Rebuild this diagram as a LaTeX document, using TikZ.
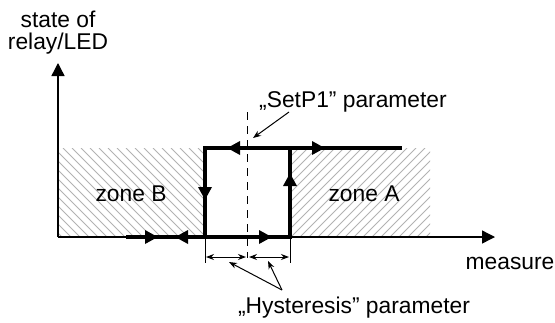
\documentclass[tikz,border=0pt]{standalone}
\usepackage{fontspec}
\setmainfont{Liberation Sans}
\usetikzlibrary{arrows.meta,decorations.markings}
\tikzset{
  axis/.style={line width=0.7pt,-{Triangle[length=6.5pt,width=6.5pt]}},
  loopline/.style={line width=1.6pt,line cap=rect,line join=miter},
  hatchline/.style={black!30,line width=0.45pt},
  pointer/.style={line width=0.5pt,-{Stealth[length=4pt,width=3pt]}},
  dimline/.style={line width=0.5pt,{Stealth[length=4pt,width=3pt]}-{Stealth[length=4pt,width=3pt]}},
  label/.style={font=\fontsize{11.4}{13}\selectfont,inner sep=0pt,anchor=base},
}
\newcommand{\looptip}{\arrow{Triangle[length=6.5pt,width=6.5pt]}}
\newcommand{\looptiprev}{\arrowreversed{Triangle[length=6.5pt,width=6.5pt]}}
\begin{document}
\begin{tikzpicture}[x=0.5pt,y=-0.5pt]
  \useasboundingbox (0,0) rectangle (555,322);
  % hatched zones
  \begin{scope}
    \clip (58,148) rectangle (205,237);
    \foreach \s in {-90,-81,...,210} {
      \draw[hatchline] (\s,148) -- ++(89,89);
    }
  \end{scope}
  \begin{scope}
    \clip (290,148) rectangle (430,237);
    \foreach \s in {290,299,...,530} {
      \draw[hatchline] (\s,148) -- ++(-89,89);
    }
  \end{scope}
  % axes
  \coordinate (origin) at (58,237);
  \coordinate (yend) at (58,63);
  \coordinate (xend) at (495,237);
  \draw[axis] (origin) -- (yend);
  \draw[axis] (origin) -- (xend);
  % set point
  \coordinate (spTop) at (247,112);
  \coordinate (spBot) at (247,258);
  \draw[dashed,dash pattern=on 4pt off 3pt,line width=0.45pt] (spTop) -- (spBot);
  % hysteresis loop
  \coordinate (b0) at (128,237);
  \coordinate (bl) at (205,237);
  \coordinate (br) at (290,237);
  \coordinate (tl) at (205,148);
  \coordinate (tr) at (290,148);
  \coordinate (t1) at (400,148);
  \draw[loopline,postaction={decorate,decoration={markings,
      mark=at position 15pt with {\looptip},
      mark=at position 23.5pt with {\looptiprev},
      mark=at position 72pt with {\looptip},
      mark=at position 113pt with {\looptip}}}]
    (b0) -- (br) -- (tr);
  \draw[loopline,postaction={decorate,decoration={markings,
      mark=at position 37.5pt with {\looptiprev},
      mark=at position 86.5pt with {\looptip},
      mark=at position 123.5pt with {\looptip}}}]
    (t1) -- (tl) -- (bl);
  % hysteresis width
  \coordinate (hl) at (205,263);
  \coordinate (hr) at (290,263);
  \draw[line width=0.5pt] (bl) -- (hl);
  \draw[line width=0.5pt] (br) -- (hr);
  \coordinate (dl1) at (206,257);
  \coordinate (dl2) at (246,257);
  \coordinate (dr1) at (249,257);
  \coordinate (dr2) at (289,257);
  \draw[dimline] (dl1) -- (dl2);
  \draw[dimline] (dr1) -- (dr2);
  % labels
  \node[label] (yl1) at (58,27) {state of};
  \node[label] (yl2) at (58,49) {relay/LED};
  \node[label] (xl) at (510,269) {measure};
  \node[label] (zoneB) at (131,201) {zone B};
  \node[label] (zoneA) at (364,201) {zone A};
  \node[label] (setp) at (353,107) {„SetP1” parameter};
  \node[label] (hyst) at (354,313) {„Hysteresis” parameter};
  % pointers
  \coordinate (setpFrom) at (289,112);
  \coordinate (setpTo) at (253,138);
  \draw[pointer] (setpFrom) -- (setpTo);
  \coordinate (hystFrom) at (282,290);
  \coordinate (hystToL) at (229,262);
  \coordinate (hystToR) at (268,261);
  \draw[pointer] (hystFrom) -- (hystToL);
  \draw[pointer] (hystFrom) -- (hystToR);
\end{tikzpicture}
\end{document}
